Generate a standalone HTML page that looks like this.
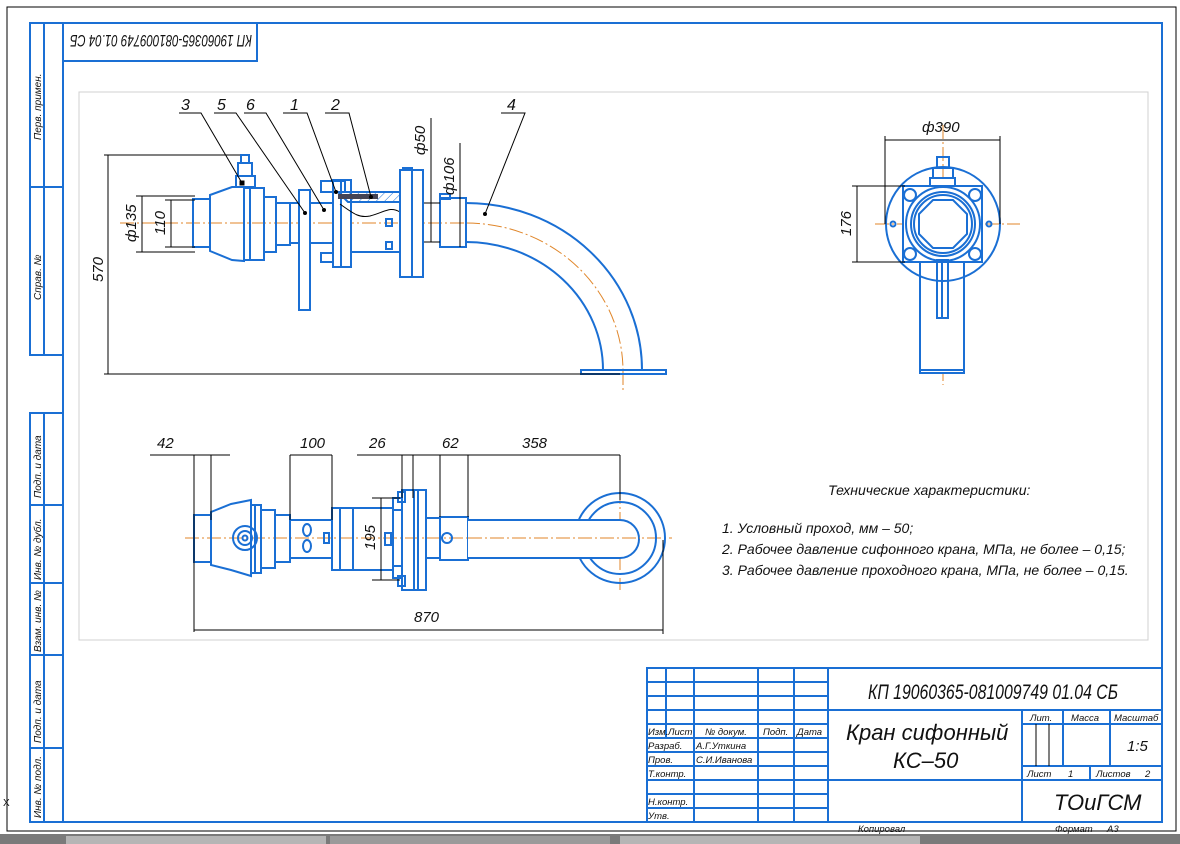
<!DOCTYPE html>
<html><head><meta charset="utf-8"><style>
html,body{margin:0;padding:0;background:#fff;}
svg{display:block;font-family:"Liberation Sans","DejaVu Sans",sans-serif;font-style:italic;}
.b{stroke:#1a6fd4;stroke-width:2;fill:none}
.bf{stroke:#1a6fd4;stroke-width:2;fill:#fff}
.k{stroke:#000;stroke-width:1;fill:none}
.c{stroke:#e0862a;stroke-width:1;fill:none;stroke-dasharray:14 3 2 3}
text{fill:#111}
</style></head><body>
<svg width="1180" height="844" viewBox="0 0 1180 844" xmlns="http://www.w3.org/2000/svg">
<rect x="0" y="0" width="1180" height="844" fill="#fff"/>
<rect x="7" y="7" width="1169" height="824" class="k"/>
<rect x="0" y="834" width="1180" height="10" fill="#7a7a7a"/>
<rect x="66" y="836" width="260" height="8" fill="#b5b5b5"/>
<rect x="330" y="836" width="280" height="8" fill="#9a9a9a"/>
<rect x="620" y="836" width="300" height="8" fill="#b5b5b5"/>
<!-- main frame -->
<rect x="63" y="23" width="1099" height="799" class="b"/>
<rect x="79" y="92" width="1069" height="548" fill="none" stroke="#d0d0d0" stroke-width="1"/>
<!-- left strips -->
<g class="b">
<rect x="30" y="23" width="33" height="332"/><line x1="44" y1="23" x2="44" y2="355"/><line x1="30" y1="187" x2="63" y2="187"/>
<rect x="30" y="413" width="33" height="409"/><line x1="44" y1="413" x2="44" y2="822"/>
<line x1="30" y1="505" x2="63" y2="505"/><line x1="30" y1="583" x2="63" y2="583"/><line x1="30" y1="655" x2="63" y2="655"/><line x1="30" y1="748" x2="63" y2="748"/>
</g>
<g font-size="10">
<text transform="translate(41,140) rotate(-90)">Перв. примен.</text>
<text transform="translate(41,300) rotate(-90)">Справ. №</text>
<text transform="translate(41,498) rotate(-90)">Подп. и дата</text>
<text transform="translate(41,580) rotate(-90)">Инв. № дубл.</text>
<text transform="translate(41,652) rotate(-90)">Взам. инв. №</text>
<text transform="translate(41,743) rotate(-90)">Подп. и дата</text>
<text transform="translate(41,818) rotate(-90)">Инв. № подл.</text>
</g>
<text x="3" y="806" font-size="10" font-style="normal">X</text>
<!-- top-left stamp -->
<rect x="63" y="23" width="194" height="38" class="b"/>
<text transform="translate(252,35) rotate(180)" font-size="17" textLength="182" lengthAdjust="spacingAndGlyphs">КП 19060365-081009749 01.04 СБ</text>

<!-- FRONT VIEW -->
<line x1="120" y1="223" x2="466" y2="223" class="c"/>
<path d="M466 223 A157 148 0 0 1 623 371" class="c"/>
<line x1="623" y1="371" x2="623" y2="390" class="c"/>
<rect x="193" y="199" width="17" height="48" class="b"/>
<path d="M210 195 L232 187 L244 187 L244 261 L232 260 L210 251 Z" class="b"/>
<rect x="244" y="188" width="20" height="72" class="b"/>
<line x1="250" y1="188" x2="250" y2="260" class="b"/>
<rect x="264" y="197" width="12" height="55" class="b"/>
<rect x="276" y="203" width="14" height="42" class="b"/>
<rect x="236" y="176" width="19" height="11" class="b"/>
<rect x="238" y="163" width="14" height="13" class="b"/>
<rect x="241" y="155" width="8" height="8" class="b"/>
<rect x="240" y="181" width="4" height="4" stroke="#000" fill="#000"/>
<rect x="290" y="203" width="44" height="40" class="b"/>
<rect x="299" y="190" width="11" height="120" class="bf"/>
<rect x="333" y="180" width="8" height="87" class="bf"/>
<rect x="341" y="180" width="10" height="87" class="bf"/>
<rect x="321" y="181" width="12" height="11" class="b"/><rect x="333" y="181" width="12" height="11" class="b"/>
<rect x="321" y="253" width="12" height="9" class="b"/>
<rect x="351" y="192" width="52" height="60" class="b"/>
<defs><pattern id="h" width="6" height="6" patternUnits="userSpaceOnUse" patternTransform="rotate(45)"><line x1="0" y1="0" x2="0" y2="6" stroke="#1a6fd4" stroke-width="1"/></pattern></defs>
<path d="M338 192 L403 192 L403 168 L412 168 L412 212 L400 212 L400 202 L348 202 Z" fill="url(#h)" stroke="#1a6fd4" stroke-width="2"/>
<rect x="338" y="194" width="40" height="5" fill="#445" />
<path d="M340 204 C355 215 360 218 370 216 C385 212 390 206 400 212" stroke="#000" fill="none"/>
<rect x="386" y="219" width="6" height="7" class="b"/><rect x="386" y="242" width="6" height="7" class="b"/>
<rect x="400" y="170" width="12" height="107" class="bf"/>
<rect x="412" y="170" width="11" height="107" class="bf"/>
<rect x="440" y="198" width="26" height="49" class="b"/>
<rect x="440" y="194" width="10" height="5" class="b"/>
<path d="M466 203 A176 167 0 0 1 642 370" class="b"/>
<path d="M466 242 A137 128 0 0 1 603 370" class="b"/>
<rect x="581" y="370" width="85" height="4" class="b"/>
<g class="k">
<path d="M179 113 H201 L242 183"/><path d="M214 113 H236 L305 213"/><path d="M244 113 H266 L324 210"/>
<path d="M283 113 H307 L336 192"/><path d="M325 113 H349 L371 197"/><path d="M501 113 H525 L485 214"/>
</g>
<g fill="#000"><circle cx="305" cy="213" r="2"/><circle cx="324" cy="210" r="2"/><circle cx="336" cy="192" r="2"/><circle cx="371" cy="197" r="2"/><circle cx="485" cy="214" r="2"/></g>
<g font-size="16"><text x="181" y="110">3</text><text x="217" y="110">5</text><text x="246" y="110">6</text><text x="290" y="110">1</text><text x="331" y="110">2</text><text x="507" y="110">4</text></g>
<g class="k">
<path d="M104 155 H240 M104 374 H620 M108 155 V374"/>
<path d="M136 196 H195 M136 252 H195 M142 196 V252"/>
<path d="M165 200 H195 M165 247 H195 M171 200 V247"/>
<path d="M431 118 V242 M424 203 H440 M424 242 H440"/>
<path d="M460 143 V247"/>
</g>
<g font-size="15">
<text transform="translate(103,282) rotate(-90)">570</text>
<text transform="translate(136,242) rotate(-90)">ф135</text>
<text transform="translate(165,235) rotate(-90)">110</text>
<text transform="translate(425,155) rotate(-90)">ф50</text>
<text transform="translate(454,195) rotate(-90)">ф106</text>
</g>

<!-- PLAN VIEW -->
<line x1="185" y1="538" x2="672" y2="538" class="c"/>
<line x1="620" y1="490" x2="620" y2="590" class="c"/>
<circle cx="620" cy="538" r="45" class="b"/>
<circle cx="620" cy="538" r="36" class="b"/>
<rect x="194" y="515" width="17" height="47" class="b"/>
<path d="M211 512 L231 504 L251 500 L251 576 L231 570 L211 565 Z" class="b"/>
<rect x="251" y="505" width="10" height="68" class="b"/><line x1="255" y1="505" x2="255" y2="573" class="b"/>
<rect x="261" y="510" width="14" height="58" class="b"/>
<rect x="275" y="515" width="15" height="47" class="b"/>
<circle cx="245" cy="538" r="12" class="b"/><circle cx="245" cy="538" r="7" class="b"/><circle cx="245" cy="538" r="2.5" class="b"/>
<rect x="290" y="520" width="42" height="38" class="b"/>
<ellipse cx="307" cy="530" rx="4" ry="6" class="b"/><ellipse cx="307" cy="546" rx="4" ry="6" class="b"/>
<rect x="324" y="533" width="5" height="10" class="b"/>
<rect x="332" y="508" width="8" height="62" class="b"/><rect x="340" y="508" width="13" height="62" class="b"/>
<rect x="353" y="508" width="40" height="62" class="b"/>
<rect x="393" y="498" width="9" height="12" class="b"/><rect x="393" y="566" width="9" height="12" class="b"/>
<rect x="398" y="492" width="7" height="10" class="b"/><rect x="398" y="576" width="7" height="10" class="b"/>
<rect x="402" y="490" width="12" height="100" class="b"/><rect x="414" y="490" width="12" height="100" class="b"/>
<line x1="418" y1="490" x2="418" y2="590" class="b"/>
<rect x="385" y="533" width="6" height="12" class="b"/>
<rect x="426" y="518" width="14" height="40" class="b"/>
<rect x="440" y="517" width="28" height="43" class="b"/>
<circle cx="447" cy="538" r="5" class="b"/>
<path d="M468 520 H620 A18 18 0 0 1 620 558 H468" class="bf"/>
<line x1="468" y1="538" x2="640" y2="538" class="c"/>
<g class="k">
<path d="M150 455 H230 M194 455 V632 M211 455 V520"/>
<path d="M290 455 H332 M290 455 V520 M332 455 V520"/>
<path d="M357 455 H413 M402 455 V498 M413 455 V498"/>
<path d="M413 455 H468 M440 455 V517 M468 455 V517"/>
<path d="M468 455 H620 M620 455 V500"/>
<path d="M194 630 H663 M663 540 V634"/>
<path d="M381 498 V580 M372 498 H400 M372 580 H400"/>
</g>
<g font-size="15">
<text x="157" y="448">42</text><text x="300" y="448">100</text><text x="369" y="448">26</text><text x="442" y="448">62</text><text x="522" y="448">358</text>
<text x="414" y="622">870</text>
<text transform="translate(375,550) rotate(-90)">195</text>
</g>

<!-- SIDE VIEW -->
<line x1="943" y1="125" x2="943" y2="385" class="c"/>
<line x1="875" y1="224" x2="1020" y2="224" class="c"/>
<rect x="920" y="260" width="44" height="113" class="bf"/>
<line x1="920" y1="370" x2="964" y2="370" class="b"/>
<circle cx="943" cy="224" r="57" class="b"/>
<rect x="903" y="186" width="79" height="76" class="bf"/>
<circle cx="910" cy="195" r="6" class="b"/><circle cx="975" cy="195" r="6" class="b"/><circle cx="910" cy="254" r="6" class="b"/><circle cx="975" cy="254" r="6" class="b"/>
<circle cx="893" cy="224" r="2.5" class="b"/><circle cx="989" cy="224" r="2.5" class="b"/>
<circle cx="943" cy="224" r="37" class="b"/><circle cx="943" cy="224" r="32" class="b"/><circle cx="943" cy="224" r="29" class="b"/>
<polygon points="933,200 953,200 967,214 967,234 953,248 933,248 919,234 919,214" class="b"/>
<rect x="937" y="260" width="11" height="58" class="b"/><line x1="942" y1="260" x2="942" y2="318" class="b"/>
<rect x="930" y="178" width="25" height="8" class="bf"/>
<rect x="933" y="168" width="20" height="10" class="b"/>
<rect x="937" y="157" width="12" height="11" class="b"/>
<g class="k"><path d="M885 140 H1000 M885 136 V224 M1000 136 V224"/><path d="M852 186 H905 M852 262 H905 M857 186 V262"/></g>
<text x="922" y="132" font-size="15">ф390</text>
<text transform="translate(851,236) rotate(-90)" font-size="15">176</text>

<g font-size="14">
<text x="828" y="495">Технические характеристики:</text>
<text x="722" y="533">1. Условный проход, мм – 50;</text>
<text x="722" y="554">2. Рабочее давление сифонного крана, МПа, не более – 0,15;</text>
<text x="722" y="575">3. Рабочее давление проходного крана, МПа, не более – 0,15.</text>
</g>

<!-- TITLE BLOCK -->
<g class="b">
<rect x="647" y="668" width="515" height="154"/>
<line x1="828" y1="668" x2="828" y2="822"/>
<line x1="666" y1="668" x2="666" y2="738"/><line x1="694" y1="668" x2="694" y2="822"/>
<line x1="758" y1="668" x2="758" y2="822"/><line x1="794" y1="668" x2="794" y2="822"/>
<line x1="647" y1="682" x2="828" y2="682"/><line x1="647" y1="696" x2="828" y2="696"/><line x1="647" y1="710" x2="1162" y2="710"/>
<line x1="647" y1="724" x2="828" y2="724"/><line x1="647" y1="738" x2="828" y2="738"/><line x1="647" y1="752" x2="828" y2="752"/>
<line x1="647" y1="766" x2="828" y2="766"/><line x1="647" y1="780" x2="1162" y2="780"/><line x1="647" y1="794" x2="828" y2="794"/><line x1="647" y1="808" x2="828" y2="808"/>
<line x1="1022" y1="710" x2="1022" y2="822"/><line x1="1063" y1="710" x2="1063" y2="766"/><line x1="1110" y1="710" x2="1110" y2="766"/>
<line x1="1022" y1="724" x2="1162" y2="724"/><line x1="1022" y1="766" x2="1162" y2="766"/><line x1="1090" y1="766" x2="1090" y2="780"/>
</g>
<g class="k"><line x1="1036" y1="724" x2="1036" y2="766"/><line x1="1049" y1="724" x2="1049" y2="766"/></g>
<g font-size="9.5">
<text x="648" y="735">Изм.</text><text x="668" y="735">Лист</text><text x="705" y="735">№ докум.</text><text x="763" y="735">Подп.</text><text x="797" y="735">Дата</text>
<text x="648" y="749">Разраб.</text><text x="696" y="749">А.Г.Уткина</text>
<text x="648" y="763">Пров.</text><text x="696" y="763">С.И.Иванова</text>
<text x="648" y="777">Т.контр.</text>
<text x="648" y="805">Н.контр.</text><text x="648" y="819">Утв.</text>
<text x="1030" y="721">Лит.</text><text x="1071" y="721">Масса</text><text x="1114" y="721">Масштаб</text>
<text x="1027" y="777">Лист</text><text x="1068" y="777">1</text><text x="1096" y="777">Листов</text><text x="1145" y="777">2</text>
<text x="858" y="832">Копировал</text><text x="1055" y="832">Формат</text><text x="1107" y="832">А3</text>
</g>
<text x="868" y="699" font-size="21" textLength="250" lengthAdjust="spacingAndGlyphs">КП 19060365-081009749 01.04 СБ</text>
<text x="846" y="740" font-size="22">Кран сифонный</text>
<text x="893" y="768" font-size="22">КС–50</text>
<text x="1127" y="751" font-size="15">1:5</text>
<text x="1054" y="810" font-size="22">ТОиГСМ</text>
</svg>
</body></html>
